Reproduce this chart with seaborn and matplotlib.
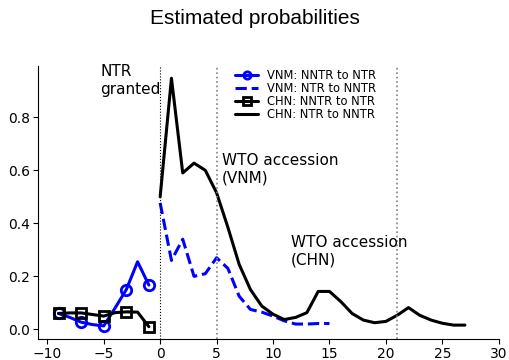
import numpy as np
import pandas as pd
import matplotlib
matplotlib.use("Agg")
import matplotlib.pyplot as plt
import seaborn as sns

# ---- data ----
pre_years = [-9, -8, -7, -6, -5, -4, -3, -2, -1]
vnm_nntr_to_ntr = [0.06, 0.045, 0.027, 0.018, 0.013, 0.08, 0.15, 0.255, 0.167]
chn_nntr_to_ntr = [0.06, 0.062, 0.062, 0.056, 0.05, 0.063, 0.066, 0.065, 0.01]

vnm_post_years = list(range(0, 16))
vnm_ntr_to_nntr = [0.477, 0.26, 0.34, 0.2, 0.21, 0.27, 0.23, 0.125, 0.075, 0.065,
                   0.05, 0.032, 0.02, 0.02, 0.022, 0.022]

chn_post_years = list(range(0, 28))
chn_ntr_to_nntr = [0.50, 0.947, 0.59, 0.627, 0.60, 0.515, 0.385, 0.245, 0.15, 0.088,
                   0.057, 0.037, 0.045, 0.063, 0.143, 0.143, 0.105, 0.06, 0.035, 0.025,
                   0.03, 0.053, 0.082, 0.053, 0.035, 0.023, 0.016, 0.016]

labels = ["VNM: NNTR to NTR", "VNM: NTR to NNTR", "CHN: NNTR to NTR", "CHN: NTR to NNTR"]
events_x = [0, 5, 21]
annotations = [("NTR\ngranted", -5.3, 1.0), ("WTO accession\n(VNM)", 5.45, 0.665),
               ("WTO accession\n(CHN)", 11.55, 0.355)]
xticks = [-10, -5, 0, 5, 10, 15, 20, 25, 30]

sns.set_style("ticks")
plt.rcParams['font.family'] = ['DejaVu Sans']
plt.rcParams['text.color'] = 'black'
plt.rcParams['axes.labelcolor'] = 'black'
plt.rcParams['xtick.color'] = 'black'
plt.rcParams['ytick.color'] = 'black'
plt.rcParams['axes.edgecolor'] = 'black'

fig, ax = plt.subplots(figsize=(5.1, 3.6), dpi=100)
fig.subplots_adjust(left=0.075, right=0.978, top=0.817, bottom=0.058)

sns.lineplot(x=pre_years, y=vnm_nntr_to_ntr, ax=ax, color='blue', lw=2.2,
             marker='o', markevery=2, markersize=7.5, mfc='none', mew=2, mec='blue',
             label=labels[0])
sns.lineplot(x=vnm_post_years, y=vnm_ntr_to_nntr, ax=ax, color='blue', lw=2.2,
             linestyle='--', label=labels[1])
sns.lineplot(x=pre_years, y=chn_nntr_to_ntr, ax=ax, color='black', lw=2.2,
             marker='s', markevery=2, markersize=7.5, mfc='none', mew=2, mec='black',
             label=labels[2])
sns.lineplot(x=chn_post_years, y=chn_ntr_to_nntr, ax=ax, color='black', lw=2.2,
             label=labels[3])

ax.axvline(events_x[0], color='black', linestyle=':', lw=0.8)
for xv in events_x[1:]:
    ax.axvline(xv, color='gray', linestyle=':', lw=1.2)

for txt, x, y in annotations:
    ax.text(x, y, txt, fontsize=11, va='top', ha='left', color='black')

ax.set_xlim(-10.8, 30)
ax.set_xticks(xticks)
ax.tick_params(labelsize=10, length=3.5, width=0.8, pad=2.5, colors='black')
sns.despine(ax=ax)

ax.legend(loc='upper left', bbox_to_anchor=(0.405, 1.025), frameon=False,
          fontsize=8.3, labelspacing=0.0, markerscale=0.7, handletextpad=0.8)

fig.suptitle("Estimated probabilities", fontsize=15, family='Liberation Sans', y=0.975)
fig.savefig("out.png", dpi=100)
